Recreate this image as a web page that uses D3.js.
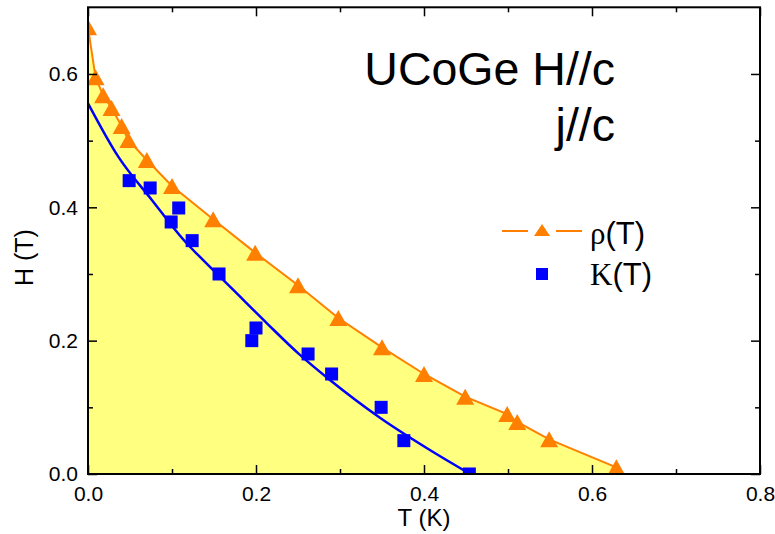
<!DOCTYPE html>
<html>
<head>
<meta charset="utf-8">
<script src="https://cdn.jsdelivr.net/npm/d3@7"></script>
<style>
  html, body { margin: 0; padding: 0; background: #fff; }
  svg { display: block; }
  text { font-family: "Liberation Sans", Arial, sans-serif; fill: #000; }
</style>
</head>
<body>
<svg id="chart" width="775" height="534"></svg>
<script>
// ---- data ----
const rhoT = [0, 0.009, 0.018, 0.028, 0.04, 0.048, 0.07, 0.1, 0.149, 0.199, 0.25, 0.298, 0.35, 0.4, 0.449, 0.499, 0.511, 0.549, 0.629];
const rhoH = [0.67, 0.595, 0.568, 0.549, 0.522, 0.501, 0.471, 0.432, 0.382, 0.332, 0.283, 0.234, 0.19, 0.15, 0.116, 0.09, 0.078, 0.052, 0.01];

const kappaT = [0.049, 0.074, 0.099, 0.108, 0.124, 0.156, 0.195, 0.2, 0.262, 0.29, 0.349, 0.376, 0.454];
const kappaH = [0.44, 0.429, 0.378, 0.399, 0.35, 0.3, 0.2, 0.219, 0.18, 0.15, 0.1, 0.05, 0.0];

const fitT = [0, 0.036, 0.076, 0.116, 0.133, 0.173, 0.213, 0.252, 0.288, 0.348, 0.407, 0.455];
const fitH = [0.556, 0.476, 0.411, 0.348, 0.326, 0.276, 0.226, 0.179, 0.141, 0.084, 0.036, 0.0];

const xMajor = [0, 0.2, 0.4, 0.6, 0.8];
const xMinor = [0.1, 0.3, 0.5, 0.7];
const yMajor = [0, 0.2, 0.4, 0.6];
const yMinor = [0.1, 0.3, 0.5];

const titleLines = ["UCoGe H//c", "j//c"];
const xLabel = "T (K)";
const yLabel = "H (T)";

// ---- layout ----
const svg = d3.select("#chart");
const L = 88, R = 760, T = 7.3, B = 474;
const x = d3.scaleLinear().domain([0, 0.8]).range([L, R]);
const y = d3.scaleLinear().domain([0, 0.7]).range([B, T]);

const ORANGE = "#FF8000", BLUE = "#0000FF", YELLOW = "#FFFF80";

svg.append("defs").append("clipPath").attr("id", "clip")
  .append("rect").attr("x", L).attr("y", T).attr("width", R - L).attr("height", B - T);

const rho = rhoT.map((t, i) => ({ t, h: rhoH[i] }));
const kap = kappaT.map((t, i) => ({ t, h: kappaH[i] }));
const fit = fitT.map((t, i) => ({ t, h: fitH[i] }));

const plot = svg.append("g").attr("clip-path", "url(#clip)");

// yellow area under rho(T)
plot.append("path")
  .datum(rho)
  .attr("fill", YELLOW)
  .attr("d", d3.area().x(d => x(d.t)).y0(y(0)).y1(d => y(d.h)));

// rho line
plot.append("path")
  .datum(rho)
  .attr("fill", "none").attr("stroke", ORANGE).attr("stroke-width", 2)
  .attr("d", d3.line().x(d => x(d.t)).y(d => y(d.h)));

// kappa fit line
plot.append("path")
  .datum(fit)
  .attr("fill", "none").attr("stroke", BLUE).attr("stroke-width", 2.5)
  .attr("d", d3.line().curve(d3.curveMonotoneX).x(d => x(d.t)).y(d => y(d.h)));

// markers
const triPath = (w, h) => `M0,${-h/2}L${w/2},${h/2}L${-w/2},${h/2}Z`;
plot.selectAll(".tri").data(rho).enter().append("path")
  .attr("d", triPath(18, 16))
  .attr("transform", d => `translate(${x(d.t)},${y(d.h)})`)
  .attr("fill", ORANGE);

const sq = 13;
plot.selectAll(".sq").data(kap).enter().append("rect")
  .attr("x", d => x(d.t) - sq / 2).attr("y", d => y(d.h) - sq / 2)
  .attr("width", sq).attr("height", sq)
  .attr("fill", BLUE);

// ---- axes ----
function styleAxis(g) {
  g.select(".domain").remove();
  g.selectAll(".tick line").attr("stroke", "#000").attr("stroke-width", 1.5);
  g.selectAll(".tick text").style("font-size", "21px").style("font-family", "'Liberation Sans', Arial, sans-serif");
}
const fmt = d3.format(".1f");

svg.append("g").attr("transform", `translate(0,${B})`)
  .call(d3.axisBottom(x).tickValues(xMajor).tickSize(-9).tickPadding(12).tickFormat(fmt)).call(styleAxis);
svg.append("g").attr("transform", `translate(0,${B})`)
  .call(d3.axisBottom(x).tickValues(xMinor).tickSize(-5).tickFormat("")).call(styleAxis);
svg.append("g").attr("transform", `translate(0,${T})`)
  .call(d3.axisTop(x).tickValues(xMajor).tickSize(-9).tickFormat("")).call(styleAxis);
svg.append("g").attr("transform", `translate(0,${T})`)
  .call(d3.axisTop(x).tickValues(xMinor).tickSize(-5).tickFormat("")).call(styleAxis);

svg.append("g").attr("transform", `translate(${L},0)`)
  .call(d3.axisLeft(y).tickValues(yMajor).tickSize(-9).tickPadding(10).tickFormat(fmt)).call(styleAxis);
svg.append("g").attr("transform", `translate(${L},0)`)
  .call(d3.axisLeft(y).tickValues(yMinor).tickSize(-5).tickFormat("")).call(styleAxis);
svg.append("g").attr("transform", `translate(${R},0)`)
  .call(d3.axisRight(y).tickValues(yMajor).tickSize(-9).tickFormat("")).call(styleAxis);
svg.append("g").attr("transform", `translate(${R},0)`)
  .call(d3.axisRight(y).tickValues(yMinor).tickSize(-5).tickFormat("")).call(styleAxis);

// frame
svg.append("rect").attr("x", L).attr("y", T).attr("width", R - L).attr("height", B - T)
  .attr("fill", "none").attr("stroke", "#000").attr("stroke-width", 2);

// axis labels
svg.append("text").attr("x", (L + R) / 2).attr("y", 526).attr("text-anchor", "middle")
  .style("font-size", "24px").text(xLabel);
svg.append("text").attr("transform", `translate(33,${(T + B) / 2 + 17}) rotate(-90)`)
  .attr("text-anchor", "middle").style("font-size", "25px").text(yLabel);

// title
svg.append("text").attr("x", 615).attr("y", 85).attr("text-anchor", "end")
  .style("font-size", "46.5px").text(titleLines[0]);
svg.append("text").attr("x", 615).attr("y", 141).attr("text-anchor", "end")
  .style("font-size", "46.5px").text(titleLines[1]);

// legend
const lg = svg.append("g");
lg.append("line").attr("x1", 502).attr("x2", 528).attr("y1", 231).attr("y2", 231)
  .attr("stroke", ORANGE).attr("stroke-width", 2);
lg.append("line").attr("x1", 556).attr("x2", 582).attr("y1", 231).attr("y2", 231)
  .attr("stroke", ORANGE).attr("stroke-width", 2);
lg.append("path").attr("d", triPath(16, 12)).attr("transform", "translate(542,230)").attr("fill", ORANGE);
lg.append("rect").attr("x", 536).attr("y", 268).attr("width", 12).attr("height", 12).attr("fill", BLUE);

const t1 = lg.append("text").attr("x", 590).attr("y", 244).style("font-size", "31px");
t1.append("tspan").style("font-family", "'Liberation Serif', 'Times New Roman', serif").text("ρ");
t1.append("tspan").text("(T)");
const t2 = lg.append("text").attr("x", 590).attr("y", 285).style("font-size", "31px");
t2.append("tspan").style("font-family", "'Liberation Serif', 'Times New Roman', serif").text("Κ");
t2.append("tspan").text("(T)");
</script>
</body>
</html>
